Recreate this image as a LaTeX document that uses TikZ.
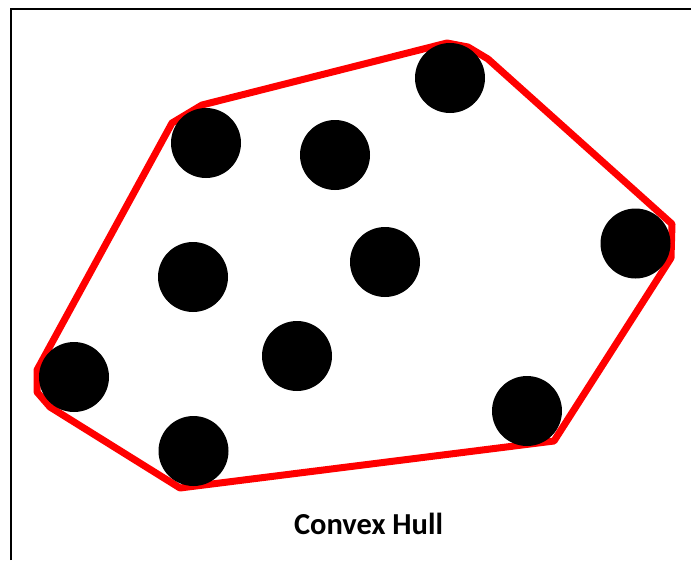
\documentclass[tikz,border=0pt]{standalone}
\usepackage{fontspec}
\setmainfont{Carlito}
\begin{document}
\begin{tikzpicture}[x=1pt,y=-1pt,
  dot/.style={circle,fill=black,minimum size=70pt,inner sep=0pt},
  hull/.style={draw=red,line width=7pt,line join=round},
  frame/.style={draw=black,line width=1.2pt}]
\useasboundingbox (0,0) rectangle (691,560);
\draw[frame] (11,560) -- (11,9) -- (691,9);
\draw[hull] (172,123) -- (202,105) -- (447,43) -- (468,47) -- (488,59)
  -- (672,224) -- (671,258) -- (554,441) -- (180,488) -- (50,407)
  -- (37,392) -- (37,370) -- cycle;
\node[dot] (c1) at (206,143) {};
\node[dot] (c2) at (335,155) {};
\node[dot] (c3) at (450,78) {};
\node[dot] (c4) at (635.5,243.5) {};
\node[dot] (c5) at (193,277) {};
\node[dot] (c6) at (385,262) {};
\node[dot] (c7) at (74,377) {};
\node[dot] (c8) at (297,356) {};
\node[dot] (c9) at (527,411) {};
\node[dot] (c10) at (193.5,451) {};
\node[anchor=base,font=\bfseries\fontsize{30.5}{33}\selectfont] (cap) at (368.5,534) {Convex Hull};
\end{tikzpicture}
\end{document}
